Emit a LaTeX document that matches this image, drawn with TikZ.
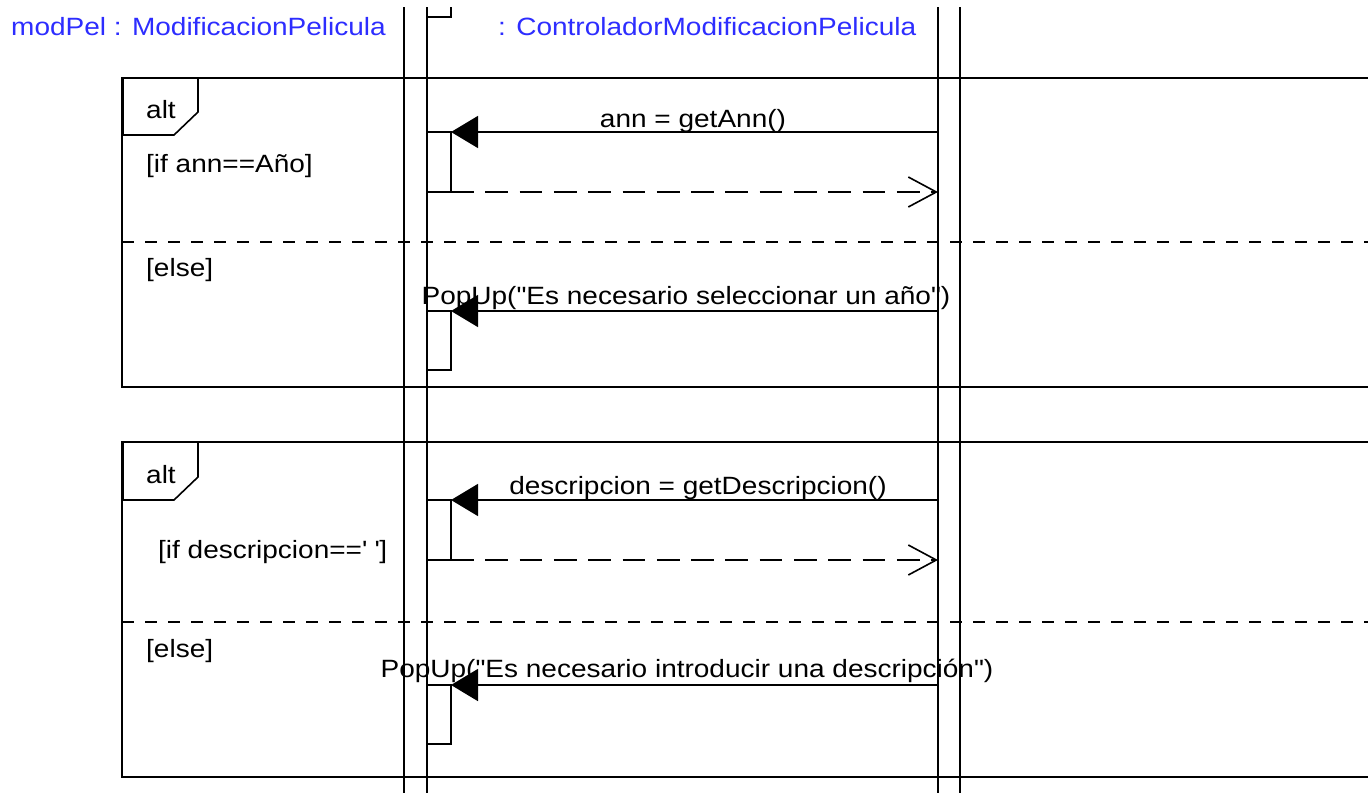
\documentclass[tikz,border=0pt]{standalone}
\usepackage{fontspec}
\newfontfamily\diag{Liberation Sans}[FakeStretch=1.12]
\usetikzlibrary{arrows.meta}
\definecolor{hdrblue}{RGB}{45,45,255}
\begin{document}
\begin{tikzpicture}[x=1pt,y=-1pt,
  lifeline/.style={line width=1.6pt},
  framebox/.style={line width=1.6pt},
  divider/.style={line width=1.6pt, dash pattern=on 12pt off 11pt},
  actbox/.style={draw, line width=1.6pt, minimum width=24pt, minimum height=60pt, inner sep=0pt, outer sep=0pt, anchor=north west},
  msg/.style={line width=1.6pt, -{Triangle[length=27pt,width=32pt]}},
  ret/.style={line width=1.6pt, dash pattern=on 22.7pt off 11.6pt, -{Straight Barb[length=28pt,width=30pt,line width=1.6pt]}},
  txt/.style={inner sep=0pt, font=\diag\fontsize{25}{30}\selectfont},
  lbl/.style={txt, anchor=base},
  glbl/.style={txt, anchor=base west},
  hdr/.style={txt, anchor=base west, text=hdrblue}]
\fill[white] (0,0) rectangle (1368,793);
\useasboundingbox (0,0) rectangle (1368,793);

% headers
\node[hdr] (h1) at (11,35) {modPel : ModificacionPelicula};
\node[hdr] (h2) at (498,35) {: ControladorModificacionPelicula};

% frames
\draw[framebox] (1372,78) -- (122,78) -- (122,387) -- (1372,387);
\draw[framebox] (122,135) -- (174,135) -- (198,112) -- (198,78);
\draw[line width=3pt] (122,78) -- (122,135);
\draw[divider] (122,242) -- (1368,242);
\node[glbl] (alt1) at (146,118) {alt};
\node[glbl] (g1) at (146,172) {[if ann==Año]};
\node[glbl] (e1) at (146,276) {[else]};

\draw[framebox] (1372,442) -- (122,442) -- (122,777) -- (1372,777);
\draw[framebox] (122,500) -- (174,500) -- (198,477) -- (198,442);
\draw[line width=3pt] (122,442) -- (122,500);
\draw[divider] (122,622) -- (1368,622);
\node[glbl] (alt2) at (146,483) {alt};
\node[glbl] (g2) at (158,558) {[if descripcion==\textquotesingle\ \textquotesingle]};
\node[glbl] (e2) at (146,657) {[else]};

% lifelines
\coordinate (l1t) at (404,7);  \coordinate (l1b) at (404,793);
\coordinate (l2t) at (427,7);  \coordinate (l2b) at (427,793);
\coordinate (l3t) at (938,7);  \coordinate (l3b) at (938,793);
\coordinate (l4t) at (960,7);  \coordinate (l4b) at (960,793);
\draw[lifeline] (l1t) -- (l1b);
\draw[lifeline] (l2t) -- (l2b);
\draw[lifeline] (l3t) -- (l3b);
\draw[lifeline] (l4t) -- (l4b);

% top activation remnant
\coordinate (t0) at (451,7);
\coordinate (t1) at (451,17);
\coordinate (t2) at (427,17);
\draw[lifeline] (t0) -- (t1) -- (t2);

% activation boxes
\node[actbox] (a1) at (427,132) {};
\node[actbox, minimum height=59pt] (a2) at (427,311) {};
\node[actbox] (a3) at (427,500) {};
\node[actbox, minimum height=59pt] (a4) at (427,685) {};

% message endpoints on controller lifeline
\coordinate (c1) at (938,132);
\coordinate (r1) at (938,192);
\coordinate (c2) at (938,311);
\coordinate (c3) at (938,500);
\coordinate (r3) at (938,560);
\coordinate (c4) at (938,685);

\draw[msg] (c1) -- (a1.north east);
\draw[ret] (a1.south east) -- (r1);
\draw[msg] (c2) -- (a2.north east);
\draw[msg] (c3) -- (a3.north east);
\draw[ret] (a3.south east) -- (r3);
\draw[msg] (c4) -- (a4.north east);

% message labels
\node[lbl] (m1) at (693,127) {ann = getAnn()};
\node[lbl] (m2) at (686,304) {PopUp("Es necesario seleccionar un año")};
\node[lbl] (m3) at (698,494) {descripcion = getDescripcion()};
\node[lbl] (m4) at (687,677) {PopUp("Es necesario introducir una descripción")};
\end{tikzpicture}
\end{document}
